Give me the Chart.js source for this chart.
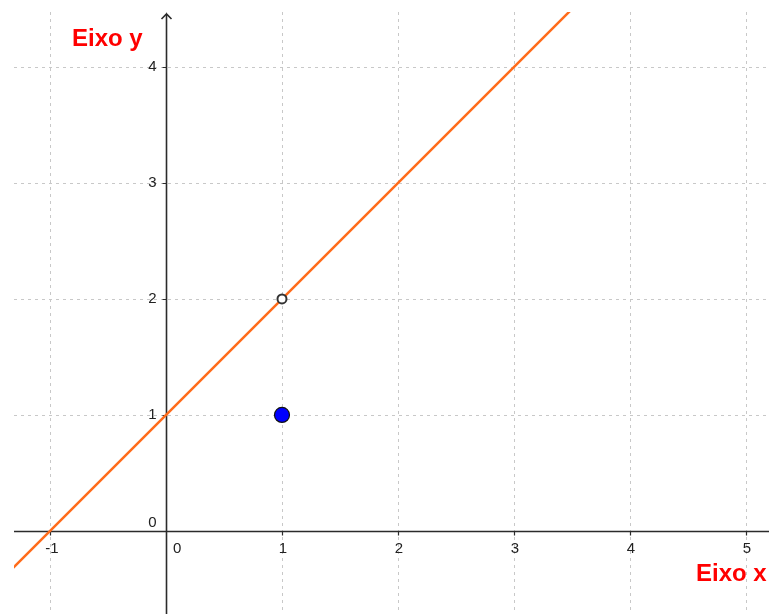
<!DOCTYPE html>
<html>
<head>
<meta charset="utf-8">
<script src="https://cdn.jsdelivr.net/npm/chart.js@4"></script>
<style>
  html, body { margin: 0; padding: 0; background: #fff; overflow: hidden; }
  #wrap { position: relative; width: 769px; height: 614px; }
</style>
</head>
<body>
<div id="wrap"><canvas id="grafico"></canvas></div>
<script>
// dados
const xTicks = [-1, 0, 1, 2, 3, 4, 5];
const yTicks = [0, 1, 2, 3, 4];
const xTickLabels = ['-1', '0', '1', '2', '3', '4', '5'];
const yTickLabels = ['0', '1', '2', '3', '4'];
const lineX = [-2, 4];
const lineY = [-1, 5];
const openPoint = [{ x: 1, y: 2 }];
const filledPoint = [{ x: 1, y: 1 }];
const xRange = [-1.31, 5.198];
const yRange = [-0.716, 4.474];

const labelFont = "15px 'Liberation Sans', Arial, sans-serif";
const titleFont = "bold 24px 'Liberation Sans', Arial, sans-serif";

// grade tracejada, desenhada a partir das escalas
const gridPlugin = {
  id: 'grade',
  beforeDatasetsDraw(chart) {
    const { ctx, scales: { x, y }, chartArea } = chart;
    ctx.save();
    ctx.strokeStyle = '#c8c8c8';
    ctx.lineWidth = 1;
    ctx.setLineDash([3, 4]);
    ctx.beginPath();
    xTicks.forEach((v) => {
      const px = Math.round(x.getPixelForValue(v)) + 0.5;
      ctx.moveTo(px, chartArea.top);
      ctx.lineTo(px, chartArea.bottom);
    });
    yTicks.forEach((v) => {
      const py = Math.round(y.getPixelForValue(v)) + 0.5;
      ctx.moveTo(chartArea.left, py);
      ctx.lineTo(chartArea.right, py);
    });
    ctx.stroke();
    ctx.restore();
  },
};

// eixos desenhados por cima da grade
const axesPlugin = {
  id: 'axes',
  beforeDatasetsDraw(chart) {
    const { ctx, scales: { x, y }, chartArea } = chart;
    const ox = Math.round(x.getPixelForValue(0)) + 0.5;
    const oy = Math.round(y.getPixelForValue(0)) + 0.5;
    ctx.save();
    ctx.strokeStyle = '#2b2b2b';
    ctx.lineWidth = 1.6;
    ctx.beginPath();
    ctx.moveTo(chartArea.left, oy);
    ctx.lineTo(chart.width, oy);
    ctx.moveTo(ox, chart.height);
    ctx.lineTo(ox, chartArea.top + 2);
    ctx.stroke();
    // seta do eixo y
    ctx.beginPath();
    ctx.moveTo(ox - 5, chartArea.top + 7);
    ctx.lineTo(ox, chartArea.top + 2);
    ctx.lineTo(ox + 5, chartArea.top + 7);
    ctx.stroke();

    // marcas
    ctx.lineWidth = 1.2;
    ctx.beginPath();
    xTicks.forEach((v) => {
      if (v === 0) return;
      const px = Math.round(x.getPixelForValue(v)) + 0.5;
      ctx.moveTo(px, oy);
      ctx.lineTo(px, oy + 4);
    });
    yTicks.forEach((v) => {
      if (v === 0) return;
      const py = Math.round(y.getPixelForValue(v)) + 0.5;
      ctx.moveTo(ox - 4, py);
      ctx.lineTo(ox, py);
    });
    ctx.stroke();

    ctx.fillStyle = '#222';
    ctx.font = labelFont;
    ctx.textBaseline = 'middle';
    xTicks.forEach((v, i) => {
      const px = x.getPixelForValue(v);
      if (v === 0) {
        ctx.textAlign = 'left';
        ctx.fillText(xTickLabels[i], px + 7, oy + 17);
      } else {
        ctx.textAlign = 'center';
        ctx.fillText(xTickLabels[i], px + (v < 0 ? 2 : 1), oy + 17);
      }
    });
    ctx.textAlign = 'right';
    yTicks.forEach((v, i) => {
      const py = y.getPixelForValue(v);
      if (v === 0) {
        ctx.fillText(yTickLabels[i], ox - 10, oy - 9);
      } else {
        ctx.fillText(yTickLabels[i], ox - 10, py);
      }
    });

    ctx.fillStyle = '#ff0000';
    ctx.font = titleFont;
    ctx.textAlign = 'left';
    ctx.textBaseline = 'alphabetic';
    ctx.fillText('Eixo y', 72, 46);
    ctx.fillText('Eixo x', 696, 581);
    ctx.restore();
  },
};

new Chart(document.getElementById('grafico'), {
  type: 'scatter',
  plugins: [gridPlugin, axesPlugin],
  data: {
    datasets: [
      {
        data: lineX.map((v, i) => ({ x: v, y: lineY[i] })),
        showLine: true,
        borderColor: '#ff6b1a',
        borderWidth: 2.5,
        pointRadius: 0,
        order: 3,
      },
      {
        data: openPoint,
        pointRadius: 4.5,
        pointBackgroundColor: '#ffffff',
        pointBorderColor: '#333333',
        pointBorderWidth: 2,
        order: 2,
      },
      {
        data: filledPoint,
        pointRadius: 7.5,
        pointBackgroundColor: '#0000ff',
        pointBorderColor: '#111111',
        pointBorderWidth: 1.2,
        order: 1,
      },
    ],
  },
  options: {
    responsive: true,
    maintainAspectRatio: false,
    animation: false,
    layout: {
      autoPadding: false,
      padding: { left: 14, top: 12, right: 0, bottom: 0 },
    },
    plugins: {
      legend: { display: false },
      tooltip: { enabled: false },
    },
    scales: {
      x: { type: 'linear', display: false, min: xRange[0], max: xRange[1] },
      y: { type: 'linear', display: false, min: yRange[0], max: yRange[1] },
    },
  },
});
</script>
</body>
</html>
